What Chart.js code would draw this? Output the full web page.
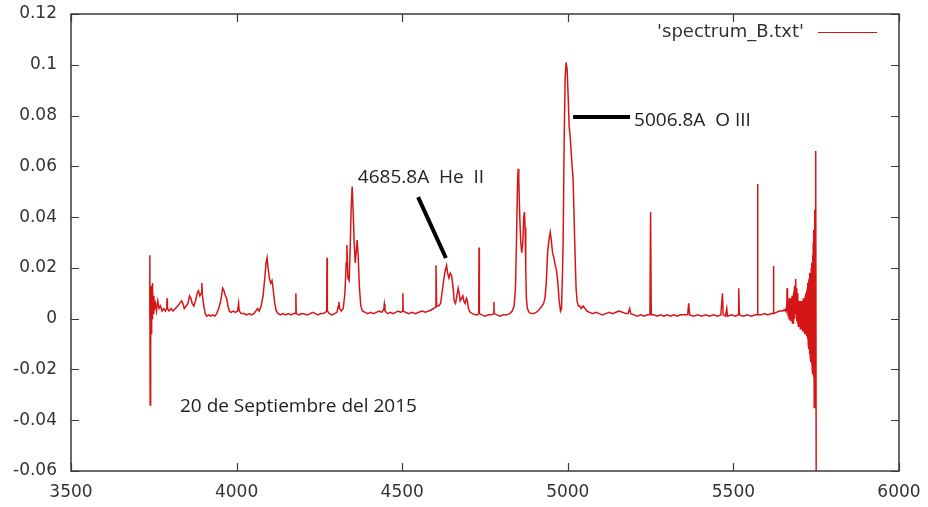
<!DOCTYPE html>
<html>
<head>
<meta charset="utf-8">
<script src="https://cdn.jsdelivr.net/npm/chart.js@4.4.1/dist/chart.umd.min.js"></script>
<style>
html,body{margin:0;padding:0;background:#fff;}
#wrap{width:928px;height:507px;}
</style>
</head>
<body>
<div id="wrap"><canvas id="c" width="928" height="507"></canvas></div>
<script>
// ---- data ----
const seriesName = "'spectrum_B.txt'";
const wavelength = [
3737,3738,3739,3740,3741,3742,3743,3744,3745,3746,3748,3750,3752,3755,3758,3762,3766,3770,3775,3780,
3785,3789,3790,3791,3796,3802,3808,3815,3822,3828,3834,3838,3842,3848,3853,3858,3862,3866,3871,3876,
3881,3885,3889,3893,3895,3897,3901,3905,3910,3916,3922,3928,3934,3940,3946,3952,3958,3962,3966,3970,
3974,3978,3983,3990,3996,4003,4006,4008,4014,4022,4030,4038,4045,4052,4058,4063,4068,4074,4080,4085,
4089,4092,4095,4099,4103,4107,4111,4115,4120,4126,4132,4140,4148,4156,4164,4172,4178,4179,4180,4188,
4196,4205,4214,4222,4230,4238,4246,4254,4262,4268,4272,4273,4274,4280,4288,4296,4303,4307,4309,4311,
4316,4322,4327,4331,4333,4336,4340,4343,4346,4349,4352,4355,4358,4361,4364,4367,4371,4375,4380,4388,
4396,4405,4414,4422,4430,4438,4444,4446,4448,4456,4464,4472,4480,4488,4496,4501,4502,4503,4510,4520,
4530,4540,4550,4560,4570,4580,4588,4595,4600,4602,4604,4610,4616,4620,4625,4630,4634,4637,4641,4645,
4649,4653,4657,4661,4665,4669,4672,4675,4679,4683,4686,4690,4694,4697,4700,4705,4712,4720,4728,4731,
4732,4733,4740,4750,4760,4770,4776,4777,4778,4786,4795,4805,4815,4825,4832,4838,4842,4845,4848,4850,
4852,4855,4858,4861,4864,4867,4869,4871,4873,4875,4878,4883,4890,4897,4904,4910,4916,4922,4927,4931,
4935,4939,4943,4947,4950,4954,4958,4962,4966,4970,4974,4978,4981,4984,4986,4989,4992,4995,4998,5001,
5004,5007,5010,5013,5016,5019,5022,5025,5028,5032,5036,5040,5046,5052,5058,5066,5075,5085,5095,5105,
5115,5125,5135,5145,5155,5165,5175,5182,5187,5190,5200,5210,5220,5230,5240,5248,5250,5252,5260,5270,
5280,5290,5300,5310,5320,5330,5340,5350,5362,5365,5368,5380,5392,5404,5416,5428,5440,5452,5462,5467,
5469,5476,5480,5482,5494,5506,5514,5516,5518,5530,5542,5554,5566,5572,5573,5574,5584,5594,5604,5614,
5620,5621,5622,5630,5638,5645,5650,5653,5656,5659,5661,5662,5663,5664,
5665,5666,5667,5668,5669,5670,5671,5672,5673,5674,5675,5676,5677,5678,5679,5680,5681,5682,5683,5684,
5685,5686,5687,5688,5689,5690,5691,5692,5693,5694,5695,5696,5697,5698,5699,5700,5701,5702,5703,5704,
5705,5706,5707,5708,5709,5710,5711,5712,5713,5714,5715,5716,5717,5718,5719,5720,5721,5722,5723,5724,
5725,5726,5727,5728,5729,5730,5731,5732,5733,5734,5735,5736,5737,5738,5739,5740,5741,5742,5743,5744,
5745,5746,5747,5748,5749,5750
];
const flux = [
0.000,0.025,-0.034,0.012,-0.010,0.013,-0.006,0.011,0.000,0.014,0.002,0.009,0.004,0.006,0.003,0.007,0.004,0.005,0.003,0.004,
0.003,0.004,0.008,0.004,0.003,0.004,0.003,0.004,0.005,0.006,0.007,0.006,0.004,0.005,0.006,0.009,0.008,0.006,0.005,0.007,
0.010,0.011,0.009,0.010,0.014,0.009,0.005,0.002,0.001,0.0015,0.001,0.0015,0.001,0.002,0.004,0.007,0.012,0.011,0.009,0.008,
0.005,0.003,0.0025,0.003,0.0025,0.003,0.006,0.003,0.002,0.002,0.0015,0.002,0.0015,0.002,0.003,0.004,0.003,0.005,0.009,0.016,
0.022,0.024,0.020,0.016,0.014,0.015,0.011,0.006,0.003,0.002,0.0015,0.002,0.0015,0.002,0.0015,0.002,0.002,0.010,0.002,0.0015,
0.002,0.0018,0.0015,0.002,0.0025,0.002,0.0015,0.002,0.002,0.0025,0.003,0.024,0.003,0.002,0.0015,0.002,0.0025,0.005,0.0066,0.004,
0.003,0.004,0.010,0.022,0.029,0.016,0.015,0.028,0.044,0.052,0.042,0.030,0.022,0.026,0.031,0.025,0.012,0.005,0.003,0.0025,
0.002,0.0025,0.002,0.0025,0.003,0.0025,0.0035,0.0057,0.003,0.002,0.0025,0.002,0.0025,0.003,0.0025,0.003,0.010,0.003,0.0025,0.002,
0.0025,0.002,0.0025,0.003,0.0025,0.003,0.0035,0.004,0.0045,0.021,0.005,0.005,0.006,0.010,0.015,0.019,0.021,0.018,0.016,0.018,
0.017,0.013,0.007,0.006,0.009,0.012,0.010,0.007,0.008,0.009,0.007,0.006,0.008,0.007,0.004,0.0025,0.002,0.0015,0.0015,0.002,
0.028,0.002,0.0015,0.001,0.0015,0.0015,0.002,0.0066,0.002,0.0015,0.001,0.0015,0.0015,0.002,0.003,0.005,0.012,0.030,0.052,0.059,
0.055,0.040,0.030,0.026,0.030,0.040,0.042,0.036,0.020,0.008,0.004,0.0025,0.002,0.002,0.0025,0.003,0.004,0.005,0.006,0.008,
0.014,0.026,0.031,0.034,0.031,0.026,0.024,0.021,0.019,0.014,0.007,0.003,0.004,0.018,0.031,0.070,0.095,0.101,0.098,0.088,
0.076,0.072,0.066,0.060,0.055,0.040,0.025,0.012,0.007,0.005,0.005,0.004,0.005,0.004,0.003,0.0025,0.002,0.0025,0.002,0.0015,
0.002,0.0025,0.002,0.0025,0.003,0.0025,0.002,0.002,0.004,0.002,0.0015,0.001,0.0015,0.001,0.0015,0.0015,0.042,0.0015,0.0015,0.001,
0.0015,0.001,0.0015,0.001,0.0015,0.001,0.0015,0.0015,0.0015,0.006,0.0015,0.001,0.0015,0.001,0.0015,0.001,0.0015,0.001,0.0015,0.010,
0.0015,0.001,0.004,0.001,0.0015,0.001,0.0015,0.012,0.0015,0.001,0.0015,0.001,0.0015,0.0015,0.053,0.0015,0.0015,0.002,0.0015,0.002,
0.002,0.0207,0.002,0.0025,0.003,0.003,0.003,0.0035,0.003,0.004,0.003,0.012,0.003,0.005,
0.006,0.001,0.007,0.000,0.008,0.001,0.007,-0.001,0.008,0.000,0.007,-0.001,0.009,-0.002,0.008,-0.001,0.010,-0.002,0.011,0.000,
0.013,0.002,0.014,0.003,0.0156,0.002,0.012,-0.001,0.010,-0.002,0.008,-0.003,0.007,-0.002,0.006,-0.003,0.007,-0.004,0.006,-0.003,
0.007,-0.004,0.006,-0.004,0.007,-0.005,0.008,-0.004,0.007,-0.005,0.008,-0.006,0.009,-0.005,0.010,-0.006,0.011,-0.007,0.012,-0.008,
0.014,-0.010,0.015,-0.012,0.016,-0.014,0.018,-0.015,0.017,-0.017,0.020,-0.018,0.022,-0.020,0.025,-0.022,0.030,-0.023,0.035,-0.035,
0.043,-0.025,0.030,-0.020,0.066,-0.065
];
const xTickValues = [3500,4000,4500,5000,5500,6000];
const xTickLabels = ['3500','4000','4500','5000','5500','6000'];
const yTickValues = [-0.06,-0.04,-0.02,0,0.02,0.04,0.06,0.08,0.1,0.12];
const yTickLabels = ['-0.06','-0.04','-0.02','0','0.02','0.04','0.06','0.08','0.1','0.12'];

// annotations in data coordinates
const notes = [
  {text:'4685.8A  He  II', x:4366, y:0.0554},
  {text:'5006.8A  O III', x:5200, y:0.0779},
  {text:'20 de Septiembre del 2015', x:3829, y:-0.0348}
];
const pointers = [
  [[4548,0.0479],[4632,0.0239]],
  [[5016,0.0794],[5188,0.0794]]
];

const LINE_COLOR = 'rgb(214,22,22)';
const TEXT_COLOR = '#333';

const framePlugin = {
  id:'frame',
  afterDatasetsDraw(chart){
    const ctx = chart.ctx, a = chart.chartArea;
    const xs = chart.scales.x, ys = chart.scales.y;
    ctx.save();
    ctx.strokeStyle = '#3a3a3a';
    ctx.lineWidth = 1.5;
    ctx.strokeRect(a.left, a.top, a.right-a.left, a.bottom-a.top);
    ctx.lineWidth = 1.2;
    const tl = 8;
    ctx.beginPath();
    xTickValues.forEach(v=>{
      const p = Math.round(xs.getPixelForValue(v))+0.5;
      ctx.moveTo(p,a.bottom); ctx.lineTo(p,a.bottom-tl);
      ctx.moveTo(p,a.top); ctx.lineTo(p,a.top+tl);
    });
    yTickValues.forEach(v=>{
      const p = Math.round(ys.getPixelForValue(v))+0.5;
      ctx.moveTo(a.left,p); ctx.lineTo(a.left+tl,p);
      ctx.moveTo(a.right,p); ctx.lineTo(a.right-tl,p);
    });
    ctx.stroke();

    // legend (gnuplot style: text then sample line)
    const ly = a.top + 18;
    ctx.font = '18px "DejaVu Sans"';
    ctx.fillStyle = TEXT_COLOR;
    ctx.textAlign = 'right';
    ctx.textBaseline = 'middle';
    ctx.fillText(seriesName, a.right-95, ly);
    ctx.strokeStyle = LINE_COLOR;
    ctx.lineWidth = 1.2;
    ctx.beginPath();
    ctx.moveTo(a.right-81, ly+0.5); ctx.lineTo(a.right-22, ly+0.5);
    ctx.stroke();

    // pointers
    ctx.strokeStyle = '#000';
    ctx.lineWidth = 4;
    pointers.forEach(pt=>{
      ctx.beginPath();
      ctx.moveTo(xs.getPixelForValue(pt[0][0]), ys.getPixelForValue(pt[0][1]));
      ctx.lineTo(xs.getPixelForValue(pt[1][0]), ys.getPixelForValue(pt[1][1]));
      ctx.stroke();
    });
    // notes
    ctx.font = '19px "Open Sans"';
    ctx.fillStyle = '#222';
    ctx.textAlign = 'left';
    ctx.textBaseline = 'middle';
    notes.forEach(n=>{
      ctx.fillText(n.text, xs.getPixelForValue(n.x), ys.getPixelForValue(n.y));
    });
    ctx.restore();
  }
};

const points = wavelength.map((w,i)=>({x:w, y:flux[i]}));

new Chart(document.getElementById('c'), {
  type:'line',
  data:{datasets:[{
    label: seriesName,
    data: points,
    borderColor: LINE_COLOR,
    borderWidth: 1.5,
    pointRadius: 0,
    tension: 0,
    fill: false
  }]},
  options:{
    responsive:false,
    animation:false,
    devicePixelRatio:1,
    layout:{padding:{top:14,right:29,left:0,bottom:0}},
    plugins:{legend:{display:false},tooltip:{enabled:false}},
    scales:{
      x:{
        type:'linear', min:3500, max:6000,
        afterBuildTicks(s){ s.ticks = xTickValues.map(v=>({value:v})); },
        afterFit(s){ s.height = 36; s.paddingLeft = 0; s.paddingRight = 0; },
        grid:{display:false, drawTicks:false},
        border:{display:false},
        ticks:{
          callback:(v,i)=>xTickLabels[xTickValues.indexOf(v)],
          color:TEXT_COLOR, padding:11, maxRotation:0,
          font:{family:'DejaVu Sans', size:17}
        }
      },
      y:{
        type:'linear', min:-0.06, max:0.12,
        afterBuildTicks(s){ s.ticks = yTickValues.map(v=>({value:v})); },
        afterFit(s){ s.width = 71; s.paddingTop = 0; s.paddingBottom = 0; },
        grid:{display:false, drawTicks:false},
        border:{display:false},
        ticks:{
          callback:(v,i)=>yTickLabels[i],
          color:TEXT_COLOR, padding:14,
          font:{family:'DejaVu Sans', size:17}
        }
      }
    }
  },
  plugins:[framePlugin]
});
</script>
</body>
</html>
